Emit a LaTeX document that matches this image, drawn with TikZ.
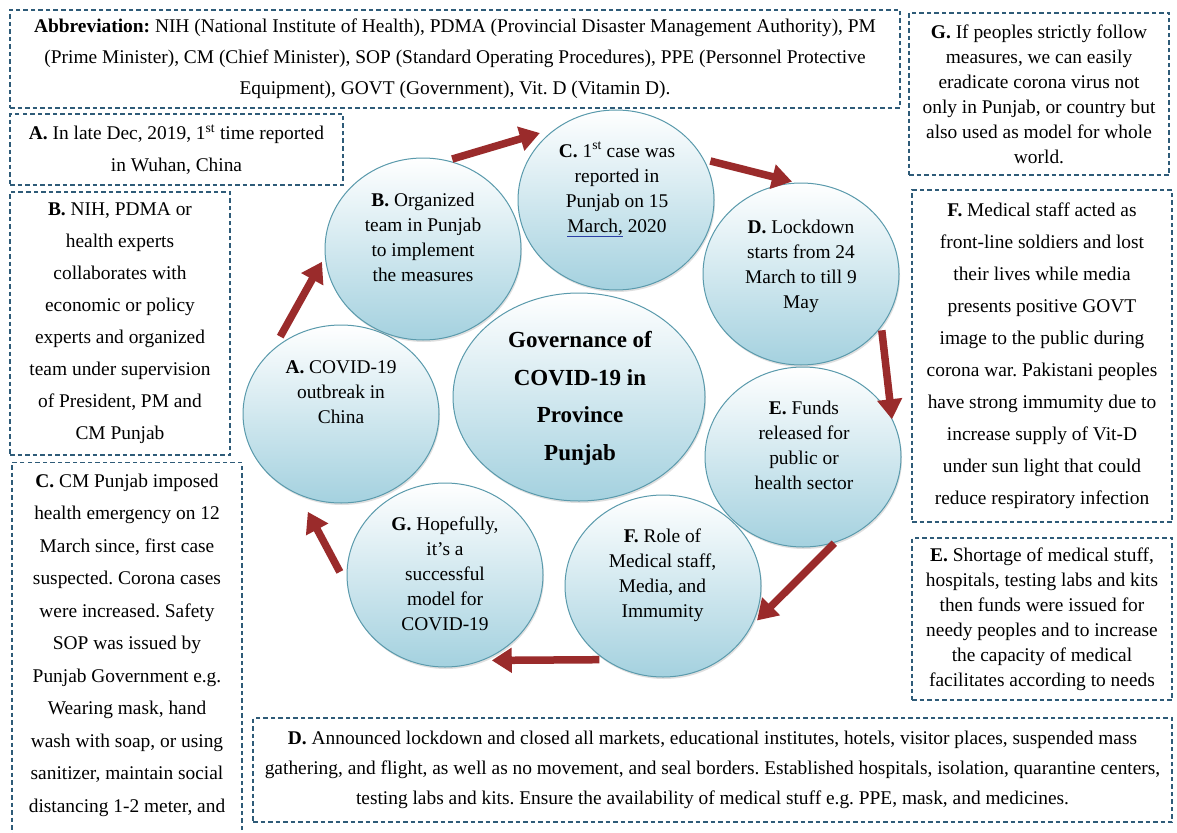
\documentclass[tikz,border=0pt]{standalone}
\usepackage{fontspec}
\setmainfont{Liberation Serif}
\usetikzlibrary{shapes.geometric,arrows.meta,shadows}
\definecolor{boxline}{HTML}{2E5B78}
\definecolor{cfill}{HTML}{A4D1DF}
\definecolor{cline}{HTML}{5A9AAC}
\definecolor{arrred}{HTML}{9A2B2B}
\definecolor{ulblue}{HTML}{2B3FA8}
\tikzset{
  infobox/.style={draw=boxline, dash pattern=on 4.5pt off 3pt, line width=1.2pt,
    align=center, inner sep=0pt, font=\fontsize{19.4}{32}\selectfont},
  bubble/.style={ellipse, draw=cline, line width=1pt, top color=white, bottom color=cfill,
    middle color=cfill!50, minimum width=196pt, minimum height=182pt, inner sep=0pt,
    outer sep=0pt, drop shadow={opacity=0.25, shadow xshift=1pt, shadow yshift=-2pt}},
  btext/.style={align=center, font=\fontsize{19.4}{25}\selectfont},
  arr/.style={draw=arrred, line width=7.5pt, -{Triangle[width=24pt,length=20pt]}}
}
\begin{document}
\frenchspacing
\begin{tikzpicture}[x=1pt,y=-1pt]
\useasboundingbox (0,0) rectangle (1177,832);
\clip (0,0) rectangle (1177,832);
\fill[white] (0,0) rectangle (1177,832);

% information boxes
\node[infobox, minimum width=890pt, minimum height=98pt, font=\fontsize{19.4}{31}\selectfont] (abbr) at (455,59)
  {\textbf{Abbreviation:} NIH (National Institute of Health), PDMA (Provincial Disaster Management Authority), PM\\
   (Prime Minister), CM (Chief Minister), SOP (Standard Operating Procedures), PPE (Personnel Protective\\
   Equipment), GOVT (Government), Vit. D (Vitamin D).};
\node[infobox, minimum width=333pt, minimum height=71pt] (bA) at (176.5,149.5)
  {\textbf{A.} In late Dec, 2019, 1\textsuperscript{st} time reported\\ in Wuhan, China};
\node[infobox, minimum width=220pt, minimum height=263pt] (bB) at (120,323.5)
  {\textbf{B.} NIH, PDMA or\\ health experts\\ collaborates with\\ economic or policy\\
   experts and organized\\ team under supervision\\ of President, PM and\\ CM Punjab};
\node[infobox, minimum width=230pt, minimum height=400pt, anchor=north] (bC) at (127,462) {};
\node[align=center, anchor=north, font=\fontsize{19.4}{32.5}\selectfont] (bCt) at ([yshift=-8pt]bC.north)
  {\textbf{C.} CM Punjab imposed\\ health emergency on 12\\ March since, first case\\ suspected. Corona cases\\
   were increased. Safety\\ SOP was issued by\\ Punjab Government e.g.\\ Wearing mask, hand\\
   wash with soap, or using\\ sanitizer, maintain social\\ distancing 1-2 meter, and};
\node[infobox, minimum width=260pt, minimum height=162pt, font=\fontsize{19.4}{25}\selectfont] (bG) at (1039,94)
  {\textbf{G.} If peoples strictly follow\\ measures, we can easily\\ eradicate corona virus not\\
   only in Punjab, or country but\\ also used as model for whole\\ world.};
\node[infobox, minimum width=260pt, minimum height=332pt] (bF) at (1042,356)
  {\textbf{F.} Medical staff acted as\\ front-line soldiers and lost\\ their lives while media\\
   presents positive GOVT\\ image to the public during\\ corona war. Pakistani peoples\\
   have strong immumity due to\\ increase supply of Vit-D\\ under sun light that could\\ reduce respiratory infection};
\node[infobox, minimum width=260pt, minimum height=162pt, font=\fontsize{19.4}{25}\selectfont] (bE) at (1042,619)
  {\textbf{E.} Shortage of medical stuff,\\ hospitals, testing labs and kits\\ then funds were issued for\\
   needy peoples and to increase\\ the capacity of medical\\ facilitates according to needs};
\node[infobox, minimum width=919pt, minimum height=104pt, font=\fontsize{19.4}{30}\selectfont] (bD) at (712.5,770)
  {\textbf{D.} Announced lockdown and closed all markets, educational institutes, hotels, visitor places, suspended mass\\
   gathering, and flight, as well as no movement, and seal borders. Established hospitals, isolation, quarantine centers,\\
   testing labs and kits. Ensure the availability of medical stuff e.g. PPE, mask, and medicines.};

% bubbles
\node[bubble, minimum height=178pt] (A) at (341,414) {};
\node[bubble] (B) at (423,249) {};
\node[bubble, minimum height=180pt] (C) at (616,200) {};
\node[bubble] (D) at (801,274) {};
\node[bubble, minimum height=180pt] (E) at (803,457) {};
\node[bubble] (F) at (663,586) {};
\node[bubble, minimum height=184pt] (G) at (445,575) {};
\node[bubble, minimum width=252pt, minimum height=208pt] (M) at (579,397) {};

\node[btext] (At) at (341,392) {\textbf{A.} COVID-19\\ outbreak in\\ China};
\node[btext] (Bt) at (423,237.5) {\textbf{B.} Organized\\ team in Punjab\\ to implement\\ the measures};
\node[btext] (Ct) at (617,189.5) {\textbf{C.} 1\textsuperscript{st} case was\\ reported in\\ Punjab on 15\\
   {\color{ulblue}\underline{\textcolor{black}{March,}}} 2020};
\node[btext] (Dt) at (801,266.5) {\textbf{D.} Lockdown\\ starts from 24\\ March to till 9\\ May};
\node[btext] (Et) at (804,445.5) {\textbf{E.} Funds\\ released for\\ public or\\ health sector};
\node[btext] (Ft) at (662.5,575.5) {\textbf{F.} Role of\\ Medical staff,\\ Media, and\\ Immumity};
\node[btext] (Gt) at (445,574) {\textbf{G.} Hopefully,\\ it’s a\\ successful\\ model for\\ COVID-19};
\node[align=center, font=\fontsize{23}{37.5}\selectfont\bfseries] (Mt) at (580,398.5)
  {Governance of\\ COVID-19 in\\ Province\\ Punjab};

% cycle arrows
\draw[arr, shorten <=15.6pt, shorten >=6.8pt] (A.137.3) -- (B.184.7);
\draw[arr, shorten <=5.8pt, shorten >=18.4pt] (B.75.1) -- (C.129);
\draw[arr, shorten <=7.2pt, shorten >=6pt] (C.25.4) -- (D.92);
\draw[arr, shorten <=4.2pt] (D.327.2) -- (E.23.1);
\draw[arr, shorten <=1.8pt, shorten >=9pt] (E.291.4) -- (F.335);
\draw[arr, shorten <=6pt, shorten >=10.5pt] (F.232.4) -- (G.293.8);
\draw[arr, shorten <=17pt, shorten >=20pt] (G.187.6) -- (A.242.2);
\end{tikzpicture}
\end{document}
